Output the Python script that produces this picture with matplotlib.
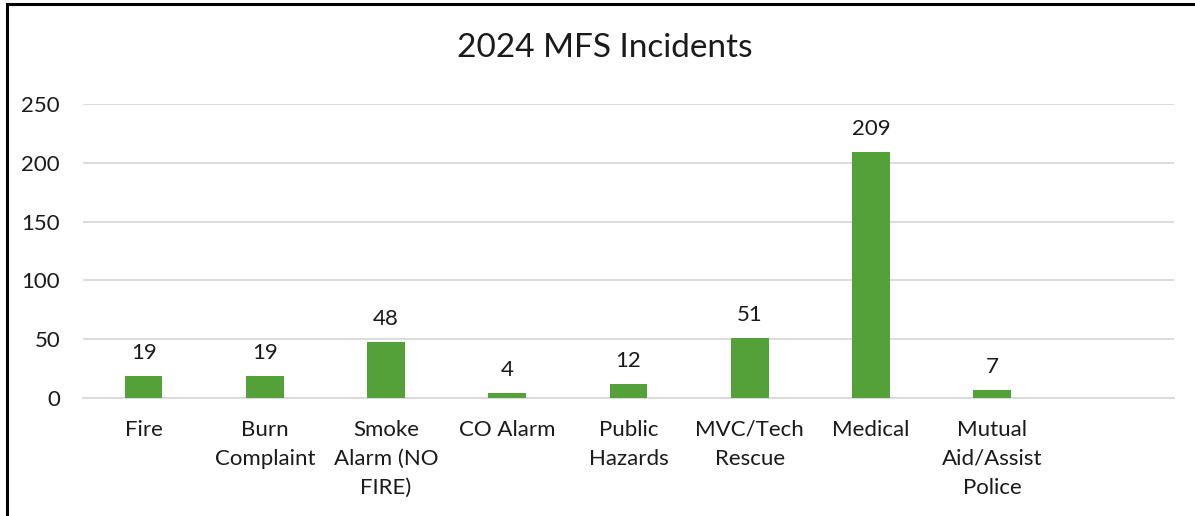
import matplotlib
matplotlib.use('Agg')
import matplotlib.pyplot as plt
from matplotlib.patches import Rectangle

categories = ['Fire', 'Burn\nComplaint', 'Smoke\nAlarm (NO\nFIRE)', 'CO Alarm',
              'Public\nHazards', 'MVC/Tech\nRescue', 'Medical',
              'Mutual\nAid/Assist\nPolice', '']
values = [19, 19, 48, 4, 12, 51, 209, 7, None]

plt.rcParams['font.family'] = ['Lato', 'DejaVu Sans']

fig = plt.figure(figsize=(11.95, 5.16), dpi=100)
ax = fig.add_axes([83 / 1195, 1 - 398 / 516, (1174 - 83) / 1195, (398 - 104) / 516])

# рамка вокруг всего рисунка (справа и снизу обрезана)
fig.patches.append(Rectangle((7 / 1195, -0.1), 1.2, 1 - 4 / 516 + 0.1, transform=fig.transFigure,
                             fill=False, edgecolor='black', linewidth=2.2))

x = list(range(len(categories)))
for i, v in enumerate(values):
    if v is None:
        continue
    ax.bar(i, v, width=0.31, color='#54A13A', zorder=3)
    ax.text(i, v + 19.5, str(v), ha='center', va='center', fontsize=16, color='#1a1a1a')

ax.set_xlim(-0.5, len(categories) - 0.5)
ax.set_ylim(0, 250)
ax.set_yticks([0, 50, 100, 150, 200, 250])
ax.set_xticks(x)
ax.set_xticklabels(categories, fontsize=16, linespacing=1.58, color='#1a1a1a')
ax.tick_params(axis='y', labelsize=16, length=0, pad=16.5, labelcolor='#1a1a1a')
ax.tick_params(axis='x', length=0, pad=15.5)
ax.grid(axis='y', color='#D9D9D9', linewidth=1.3, zorder=0)
for s in ['top', 'right', 'left']:
    ax.spines[s].set_visible(False)
ax.spines['bottom'].set_color('#D9D9D9')
ax.spines['bottom'].set_linewidth(1.3)

fig.text(605 / 1195, 1 - 48 / 516, '2024 MFS Incidents', ha='center', va='center', fontsize=24, color='#1a1a1a')

fig.savefig('out.png', dpi=100)
